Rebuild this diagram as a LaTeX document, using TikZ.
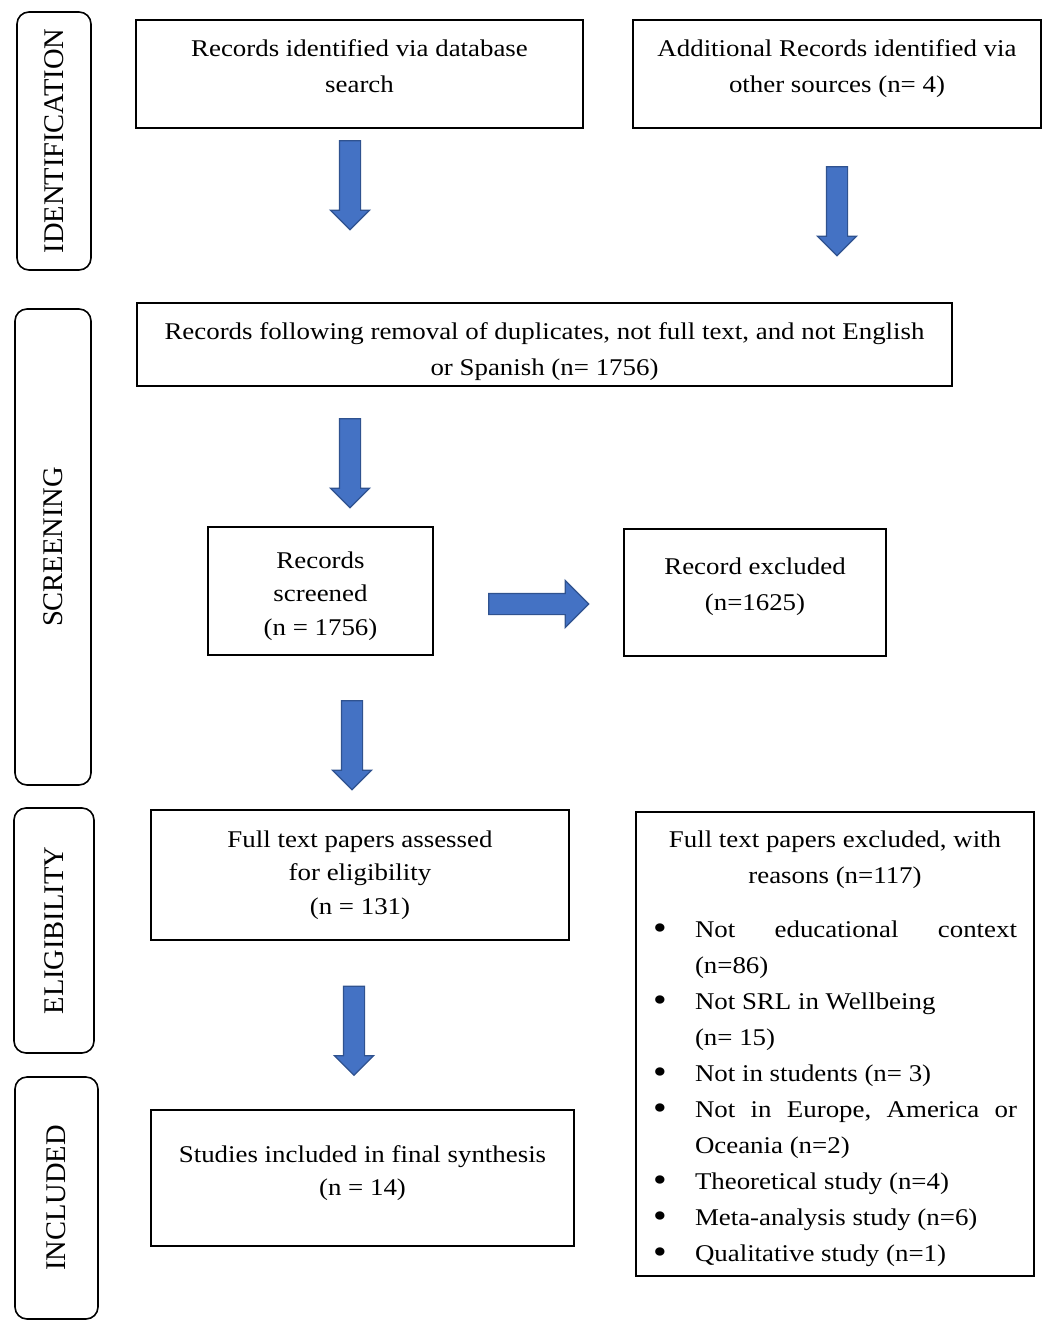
\documentclass[tikz,border=0pt]{standalone}
\usepackage{fontspec}
\setmainfont{Liberation Serif}[FakeStretch=1.12]
\newfontfamily\phasefont{Liberation Serif}
\usetikzlibrary{shapes.arrows}
\definecolor{arrowblue}{RGB}{68,114,196}
\definecolor{arrowedge}{RGB}{47,82,143}
\tikzset{
  box/.style={draw,line width=1.6pt,inner sep=0pt},
  txt/.style={align=center,font=\fontsize{24}{36}\selectfont,inner sep=0pt},
  tighttxt/.style={txt,font=\fontsize{24}{33.5}\selectfont},
  phase/.style={draw,line width=1.6pt,rounded corners=12pt,rotate=90,font=\phasefont\fontsize{28.5}{30}\selectfont,inner sep=0pt},
  blk/.style={single arrow,draw=arrowedge,fill=arrowblue,line width=1.2pt,inner xsep=0pt,inner ysep=10pt,single arrow head extend=9pt},
  blkdown/.style={blk,rotate=-90,minimum height=89pt}
}
\newcommand{\bul}{\raisebox{-1.5pt}{\scalebox{1.45}{\textbullet}}}

\begin{document}
\begin{tikzpicture}[x=1pt,y=-1pt]
  \useasboundingbox (0,0) rectangle (1043,1320);
  % phase labels on the left
  \node[phase,minimum width=258pt,minimum height=74pt] (ident) at (54,141) {IDENTIFICATION};
  \node[phase,minimum width=476pt,minimum height=76pt] (screen) at (53,547) {SCREENING};
  \node[phase,minimum width=245pt,minimum height=80pt] (elig) at (54,930.5) {ELIGIBILITY};
  \node[phase,minimum width=242pt,minimum height=83pt] (incl) at (56.5,1198) {INCLUDED};
  % boxes
  \node[box,minimum width=447pt,minimum height=108pt,
    label={[txt,yshift=8pt]center:{Records identified via database\\search}}] (db) at (359.5,74) {};
  \node[box,minimum width=408pt,minimum height=108pt,
    label={[txt,yshift=5pt]center:{Additional Records identified via\\other sources (n= 4)}}] (other) at (837,74) {};
  \node[box,minimum width=815pt,minimum height=83pt,
    label={[txt,yshift=-7pt]center:{Records following removal of duplicates, not full text, and not English\\or Spanish (n= 1756)}}] (dup) at (544.5,344.5) {};
  \node[box,minimum width=225pt,minimum height=128pt,
    label={[tighttxt,yshift=-5pt]center:{Records\\screened\\(n = 1756)}}] (screened) at (320.5,591) {};
  \node[box,minimum width=262pt,minimum height=127pt,
    label={[txt,yshift=6pt]center:{Record excluded\\(n=1625)}}] (excl) at (755,592.5) {};
  \node[box,minimum width=418pt,minimum height=130pt,
    label={[tighttxt]center:{Full text papers assessed\\for eligibility\\(n = 131)}}] (full) at (360,875) {};
  \node[box,minimum width=423pt,minimum height=136pt,
    label={[tighttxt,yshift=5pt]center:{Studies included in final synthesis\\(n = 14)}}] (final) at (362.5,1178) {};
  \node[box,minimum width=398pt,minimum height=464pt,
    label={[txt,yshift=-3.5pt]center:{%
    \begin{tabular}{@{}p{42pt}@{}p{322pt}@{}}
      \multicolumn{2}{@{}c@{}}{Full text papers excluded, with}\\
      \multicolumn{2}{@{}c@{}}{reasons (n=117)}\\[18pt]
      \bul & Not\hfill educational\hfill context\\
           & (n=86)\\
      \bul & Not SRL in Wellbeing\\
           & (n= 15)\\
      \bul & Not in students (n= 3)\\
      \bul & Not\hfill in\hfill Europe,\hfill America\hfill or\\
           & Oceania (n=2)\\
      \bul & Theoretical study (n=4)\\
      \bul & Meta-analysis study (n=6)\\
      \bul & Qualitative study (n=1)
    \end{tabular}}}] (fullexcl) at (835,1044) {};
  % block arrows
  \node[blkdown] (a1) at (350,180) {};
  \node[blkdown] (a2) at (837,206) {};
  \node[blkdown] (a3) at (350,458) {};
  \node[blkdown] (a4) at (352,740) {};
  \node[blkdown] (a5) at (354,1025.5) {};
  \node[blk,minimum height=100pt,single arrow head extend=13pt] (a6) at (533.5,604) {};
\end{tikzpicture}
\end{document}
